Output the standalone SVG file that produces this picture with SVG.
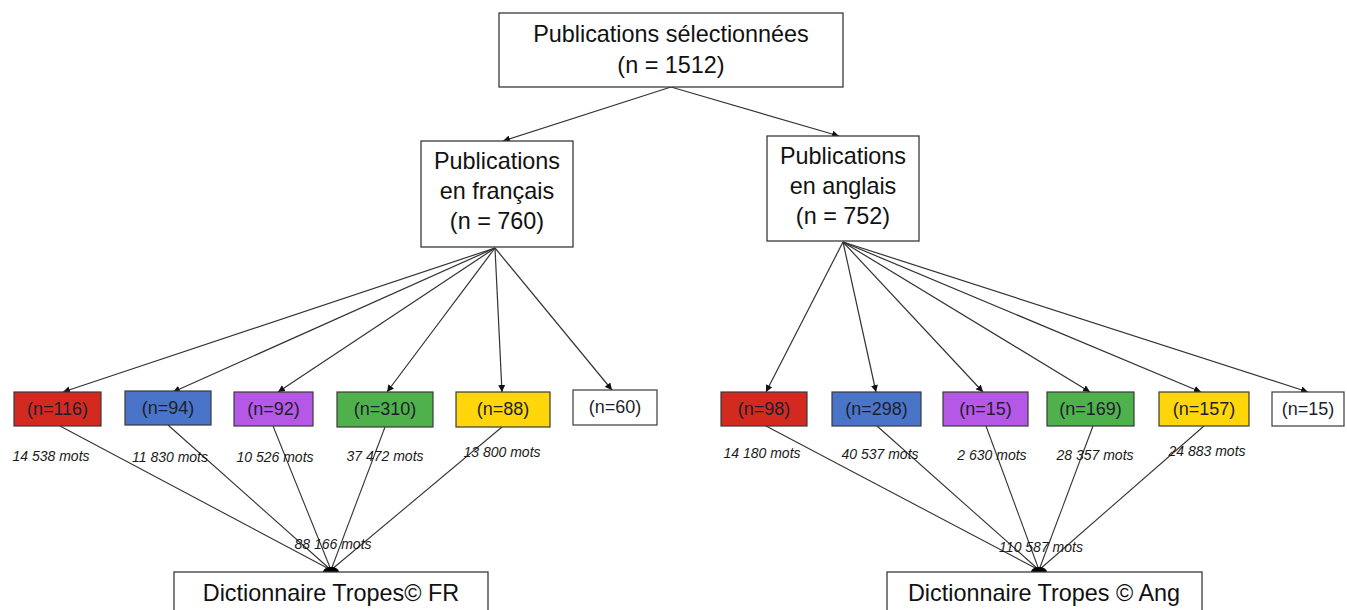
<svg xmlns="http://www.w3.org/2000/svg" width="1347" height="610" viewBox="0 0 1347 610">
  <style>
    .box { fill: #fff; stroke: #3a3a3a; stroke-width: 1.3; }
    .cat { stroke: #3a3a3a; stroke-width: 1.2; }
    .title { font-family: "Liberation Sans", Arial, sans-serif; font-size: 23.4px; fill: #111; text-anchor: middle; }
    .n { font-family: "Liberation Sans", Arial, sans-serif; font-size: 18px; fill: #1e1e2e; text-anchor: middle; }
    .mots { font-family: "Liberation Sans", Arial, sans-serif; font-size: 14px; font-style: italic; fill: #1a1a1a; text-anchor: middle; }
    .arrow { stroke: #333; stroke-width: 1.2; fill: none; marker-end: url(#head); }
    .flow { stroke: #333; stroke-width: 1.1; fill: none; }
  </style>
  <defs>
    <marker id="head" viewBox="0 0 10 10" refX="10" refY="5" markerWidth="7" markerHeight="7" orient="auto" markerUnits="userSpaceOnUse">
      <path d="M0,0 L10,5 L0,10 z" fill="#111"/>
    </marker>
  </defs>
  <rect width="1347" height="610" fill="#fff"/>

  <!-- connectors -->
  <g id="connectors">
    <!-- root to language groups -->
    <line class="arrow" x1="671" y1="87" x2="503" y2="141"/>
    <line class="arrow" x1="671" y1="87" x2="839" y2="136"/>
    <!-- French branches -->
    <line class="arrow" x1="495" y1="248" x2="63" y2="392"/>
    <line class="arrow" x1="495" y1="248" x2="173" y2="392"/>
    <line class="arrow" x1="495" y1="248" x2="278" y2="392"/>
    <line class="arrow" x1="495" y1="248" x2="387" y2="392"/>
    <line class="arrow" x1="495" y1="248" x2="502" y2="392"/>
    <line class="arrow" x1="495" y1="248" x2="612" y2="390"/>
    <!-- English branches -->
    <line class="arrow" x1="843" y1="242" x2="766" y2="392"/>
    <line class="arrow" x1="843" y1="242" x2="876" y2="392"/>
    <line class="arrow" x1="843" y1="242" x2="983" y2="392"/>
    <line class="arrow" x1="843" y1="242" x2="1090" y2="392"/>
    <line class="arrow" x1="843" y1="242" x2="1201" y2="392"/>
    <line class="arrow" x1="843" y1="242" x2="1308" y2="392"/>
    <!-- French corpus flows -->
    <line class="flow" x1="60" y1="426" x2="331" y2="570"/>
    <line class="flow" x1="168" y1="425" x2="331" y2="570"/>
    <line class="flow" x1="273" y1="426" x2="331" y2="570"/>
    <line class="flow" x1="385" y1="427" x2="331" y2="570"/>
    <line class="flow" x1="502" y1="427" x2="331" y2="570"/>
    <!-- English corpus flows -->
    <line class="flow" x1="766" y1="426" x2="1039" y2="570"/>
    <line class="flow" x1="877" y1="426" x2="1039" y2="570"/>
    <line class="flow" x1="986" y1="426" x2="1039" y2="570"/>
    <line class="flow" x1="1093" y1="426" x2="1039" y2="570"/>
    <line class="flow" x1="1204" y1="426" x2="1039" y2="570"/>
    <!-- junction dots -->
    <ellipse cx="331" cy="572" rx="8" ry="5" fill="#000"/>
    <ellipse cx="1039" cy="572" rx="8" ry="5" fill="#000"/>
  </g>

  <!-- root -->
  <g id="root">
    <rect class="box" x="499" y="13" width="344" height="74"/>
    <text class="title" x="671" y="42">Publications sélectionnées</text>
    <text class="title" x="671" y="73">(n = 1512)</text>
  </g>

  <!-- language groups -->
  <g id="fr">
    <rect class="box" x="421" y="141" width="152" height="106"/>
    <text class="title" x="497" y="169">Publications</text>
    <text class="title" x="497" y="199">en français</text>
    <text class="title" x="497" y="229">(n = 760)</text>
  </g>
  <g id="en">
    <rect class="box" x="767" y="136" width="152" height="105"/>
    <text class="title" x="843" y="164">Publications</text>
    <text class="title" x="843" y="194">en anglais</text>
    <text class="title" x="843" y="224">(n = 752)</text>
  </g>

  <!-- French categories -->
  <g id="fr-red"><rect class="cat" x="14" y="392" width="87" height="34" fill="#d22a1f"/><text class="n" x="57.5" y="415">(n=116)</text></g>
  <g id="fr-blue"><rect class="cat" x="125" y="391" width="86" height="34" fill="#4a74c8"/><text class="n" x="168" y="414">(n=94)</text></g>
  <g id="fr-purple"><rect class="cat" x="234" y="392" width="79" height="34" fill="#b658e6"/><text class="n" x="273.5" y="415">(n=92)</text></g>
  <g id="fr-green"><rect class="cat" x="337" y="392" width="96" height="35" fill="#4fb14b"/><text class="n" x="385" y="415">(n=310)</text></g>
  <g id="fr-yellow"><rect class="cat" x="456" y="392" width="94" height="35" fill="#ffd60a"/><text class="n" x="503" y="415">(n=88)</text></g>
  <g id="fr-white"><rect class="cat" x="573" y="390" width="84" height="35" fill="#fff"/><text class="n" x="615" y="413">(n=60)</text></g>

  <!-- English categories -->
  <g id="en-red"><rect class="cat" x="721" y="392" width="86" height="34" fill="#d22a1f"/><text class="n" x="764" y="415">(n=98)</text></g>
  <g id="en-blue"><rect class="cat" x="832" y="392" width="89" height="34" fill="#4a74c8"/><text class="n" x="876.5" y="415">(n=298)</text></g>
  <g id="en-purple"><rect class="cat" x="943" y="392" width="85" height="34" fill="#b658e6"/><text class="n" x="985.5" y="415">(n=15)</text></g>
  <g id="en-green"><rect class="cat" x="1047" y="392" width="87" height="34" fill="#4fb14b"/><text class="n" x="1090.5" y="415">(n=169)</text></g>
  <g id="en-yellow"><rect class="cat" x="1159" y="392" width="90" height="34" fill="#ffd60a"/><text class="n" x="1204" y="415">(n=157)</text></g>
  <g id="en-white"><rect class="cat" x="1272" y="392" width="72" height="34" fill="#fff"/><text class="n" x="1308" y="415">(n=15)</text></g>

  <!-- word counts -->
  <g id="word-counts">
    <text class="mots" x="51" y="461">14 538 mots</text>
    <text class="mots" x="170" y="462">11 830 mots</text>
    <text class="mots" x="275" y="462">10 526 mots</text>
    <text class="mots" x="385" y="461">37 472 mots</text>
    <text class="mots" x="502" y="457">13 800 mots</text>
    <text class="mots" x="333" y="549">88 166 mots</text>
    <text class="mots" x="762" y="458">14 180 mots</text>
    <text class="mots" x="880" y="459">40 537 mots</text>
    <text class="mots" x="992" y="460">2 630 mots</text>
    <text class="mots" x="1095" y="460">28 357 mots</text>
    <text class="mots" x="1207" y="456">24 883 mots</text>
    <text class="mots" x="1041" y="552">110 587 mots</text>
  </g>

  <!-- dictionaries -->
  <g id="dict-fr">
    <rect class="box" x="174" y="572" width="314" height="45"/>
    <text class="title" x="331" y="601">Dictionnaire Tropes© FR</text>
  </g>
  <g id="dict-en">
    <rect class="box" x="887" y="572" width="315" height="45"/>
    <text class="title" x="1044" y="601">Dictionnaire Tropes © Ang</text>
  </g>
</svg>
